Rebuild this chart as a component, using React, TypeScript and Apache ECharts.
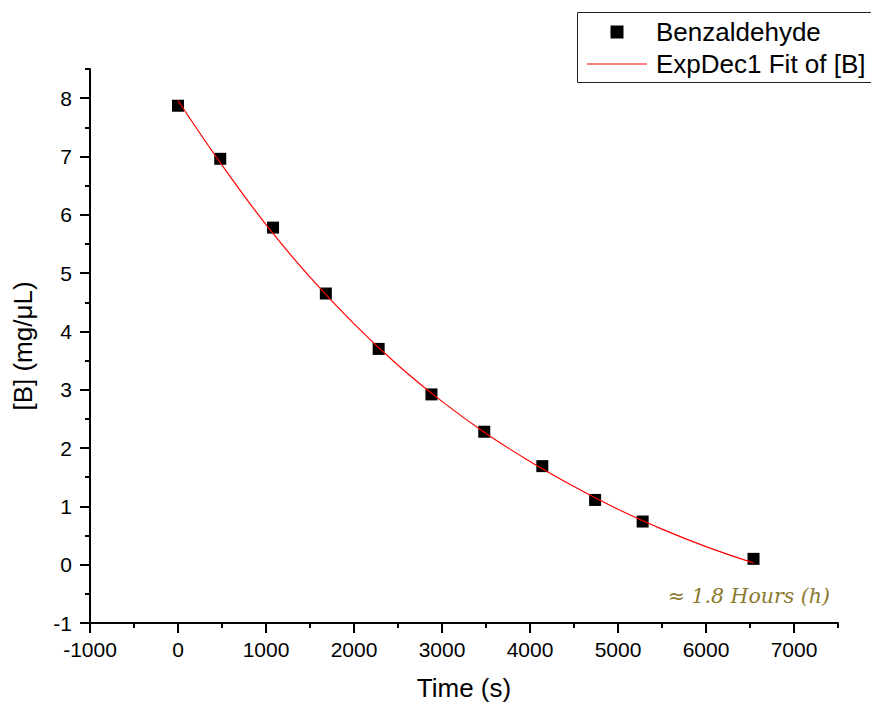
import React, { useEffect, useRef } from "react";
import * as echarts from "echarts";

// Measured data (time in s, concentration in mg/µL)
const times = [0, 480, 1080, 1680, 2280, 2880, 3480, 4140, 4740, 5280, 6540];
const conc = [7.87, 6.96, 5.78, 4.65, 3.7, 2.92, 2.28, 1.69, 1.11, 0.74, 0.1];

// ExpDec1 fit curve
const fitTimes = [0, 500, 1000, 1500, 2000, 2500, 3000, 3500, 4000, 4500, 5000, 5500, 6000, 6540];
const fitConc = [7.96, 6.85, 5.83, 4.93, 4.13, 3.42, 2.8, 2.25, 1.77, 1.34, 0.95, 0.61, 0.31, 0.03];

// Axis ticks
const xMajorTicks = [-1000, 0, 1000, 2000, 3000, 4000, 5000, 6000, 7000];
const xMinorTicks = [-500, 500, 1500, 2500, 3500, 4500, 5500, 6500, 7500];
const yMajorTicks = [-1, 0, 1, 2, 3, 4, 5, 6, 7, 8];
const yMinorTicks = [-0.5, 0.5, 1.5, 2.5, 3.5, 4.5, 5.5, 6.5, 7.5, 8.5];

const seriesNames = ["Benzaldehyde", "ExpDec1 Fit of [B]"];
const annotation = "≈ 1.8 Hours (h)";

const SANS = "'Liberation Sans', Arial, sans-serif";

export default function App() {
  const ref = useRef<HTMLDivElement>(null);

  useEffect(() => {
    if (!ref.current) return;
    const chart = echarts.init(ref.current, null, { renderer: "svg" });

    const scatterData = times.map((t, i) => [t, conc[i]]);
    const fitData = fitTimes.map((t, i) => [t, fitConc[i]]);

    const axisLine = { show: true, onZero: false, lineStyle: { color: "#000", width: 2 } };
    const plain = (v: number) => String(v);

    const option: any = {
      animation: false,
      backgroundColor: "#fff",
      grid: {
        left: 90,
        right: 33,
        top: 69,
        bottom: 83,
        containLabel: false,
        outerBoundsMode: "none",
      },
      legend: {
        orient: "vertical",
        left: 577,
        top: 12,
        padding: [7, 10, 5, 10],
        itemGap: 6,
        itemWidth: 60,
        itemHeight: 13,
        borderWidth: 0,
        textStyle: {
          fontFamily: SANS,
          fontSize: 26,
          color: "#000",
          padding: [0, 0, 0, 4],
        },
        data: [
          { name: seriesNames[0], icon: "path://M0,0L10,0L10,10L0,10Z" },
          { name: seriesNames[1], icon: "path://M0,0L60,0L60,1.2L0,1.2Z" },
        ],
      },
      xAxis: [
        {
          type: "value",
          min: -1000,
          max: 7500,
          interval: 1000,
          position: "bottom",
          name: "Time (s)",
          nameLocation: "middle",
          nameGap: 52,
          nameTextStyle: { fontFamily: SANS, fontSize: 26, color: "#000" },
          axisLine,
          axisTick: {
            show: true,
            inside: false,
            length: 10,
            customValues: xMajorTicks,
            lineStyle: { color: "#000", width: 2 },
          },
          axisLabel: {
            show: true,
            customValues: xMajorTicks,
            formatter: plain,
            margin: 16,
            fontFamily: SANS,
            fontSize: 21,
            color: "#000",
          },
          splitLine: { show: false },
        },
        {
          type: "value",
          min: -1000,
          max: 7500,
          position: "bottom",
          offset: 0,
          axisLine: { show: false, onZero: false },
          axisTick: {
            show: true,
            length: 5,
            customValues: xMinorTicks,
            lineStyle: { color: "#000", width: 2 },
          },
          axisLabel: { show: false },
          splitLine: { show: false },
        },
      ],
      yAxis: [
        {
          type: "value",
          min: -1,
          max: 8.5,
          interval: 1,
          position: "left",
          name: "[B] (mg/μL)",
          nameLocation: "middle",
          nameGap: 54,
          nameTextStyle: { fontFamily: SANS, fontSize: 26, color: "#000" },
          axisLine,
          axisTick: {
            show: true,
            length: 10,
            customValues: yMajorTicks,
            lineStyle: { color: "#000", width: 2 },
          },
          axisLabel: {
            show: true,
            customValues: yMajorTicks,
            formatter: plain,
            margin: 18,
            fontFamily: SANS,
            fontSize: 21,
            color: "#000",
          },
          splitLine: { show: false },
        },
        {
          type: "value",
          min: -1,
          max: 8.5,
          position: "left",
          offset: 0,
          axisLine: { show: false, onZero: false },
          axisTick: {
            show: true,
            length: 5,
            customValues: yMinorTicks,
            lineStyle: { color: "#000", width: 2 },
          },
          axisLabel: { show: false },
          splitLine: { show: false },
        },
      ],
      series: [
        {
          name: seriesNames[0],
          type: "scatter",
          xAxisIndex: 0,
          yAxisIndex: 0,
          symbol: "rect",
          symbolSize: 12,
          itemStyle: { color: "#000", opacity: 1 },
          data: scatterData,
        },
        {
          name: seriesNames[1],
          type: "line",
          xAxisIndex: 0,
          yAxisIndex: 0,
          symbol: "none",
          showSymbol: false,
          smooth: 0.4,
          lineStyle: { color: "#ff0000", width: 1.2 },
          itemStyle: { color: "#ff0000" },
          data: fitData,
        },
      ],
      graphic: [
        {
          type: "rect",
          z: 0,
          shape: { x: 577.5, y: 12.5, width: 400, height: 70 },
          style: { fill: "none", stroke: "#222", lineWidth: 1 },
        },
        {
          type: "text",
          right: 41,
          top: 586,
          style: {
            text: annotation,
            fontFamily: "Georgia, 'DejaVu Serif', serif",
            fontStyle: "italic",
            fontSize: 20.5,
            fill: "#8a7a2e",
          },
        },
      ],
    };

    chart.setOption(option);
    return () => chart.dispose();
  }, []);

  return (
    <div
      ref={ref}
      style={{ position: "fixed", left: 0, top: 0, width: 871, height: 706 }}
    />
  );
}
